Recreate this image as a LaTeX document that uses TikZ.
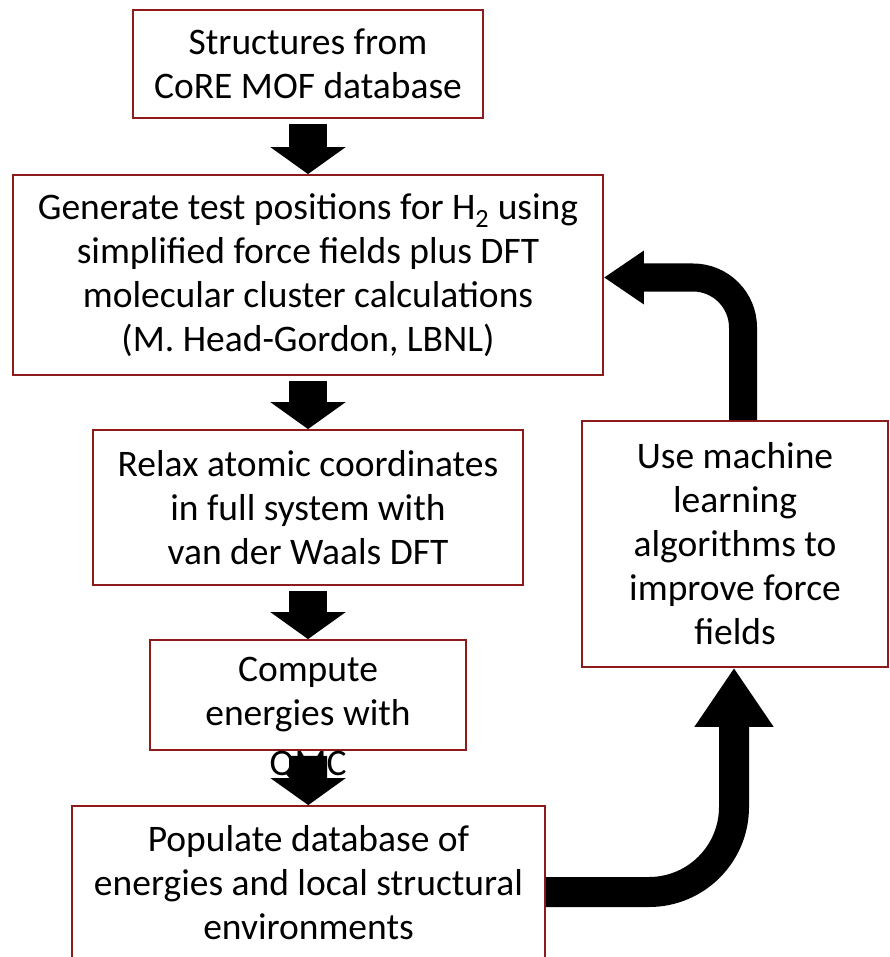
\documentclass[tikz,border=0pt]{standalone}
\usepackage{fontspec}
\setmainfont{Carlito}
\usetikzlibrary{arrows.meta, positioning, calc}

\definecolor{mofRed}{HTML}{8E1B1B}

\tikzset{
  flowbox/.style={
    draw=mofRed, line width=1.8pt, fill=white, align=center,
    font=\fontsize{37.5}{44}\selectfont, inner sep=0pt
  },
  plaintext/.style={font=\fontsize{37.5}{44}\selectfont, inner sep=0pt},
  blockarrow/.style={line width=38pt, -{Triangle[length=27pt, width=74pt]}, shorten <=5pt},
  bentarrow/.style={line width=30pt, rounded corners=85pt, -{Triangle[length=59pt, width=75pt]}},
  returnarrow/.style={line width=28pt, rounded corners=50pt, -{Triangle[length=40pt, width=51pt]}}
}

\begin{document}
\begin{tikzpicture}[x=1pt, y=-1pt]
  \useasboundingbox (0,0) rectangle (889,957);
  \clip (0,0) rectangle (889,957);

  % boxes of the workflow
  \node[flowbox, minimum width=350, minimum height=108] (core) at (308,64)
    {Structures from\\CoRE MOF database};
  \node[flowbox, minimum width=590, minimum height=200] (testpos) at (308,275)
    {Generate test positions for H\textsubscript{2} using\\simplified force fields plus DFT\\molecular cluster calculations\\(M. Head-Gordon, LBNL)};
  \node[flowbox, minimum width=430, minimum height=155] (relax) at (308,507.5)
    {Relax atomic coordinates\\in full system with\\van der Waals DFT};
  \node[flowbox, minimum width=316, minimum height=110] (qmcbox) at (308,695)
    {Compute\\energies with};
  \node[plaintext, anchor=base] (qmclabel) at (308,775) {QMC};
  \node[flowbox, minimum width=473, minimum height=154] (populate) at (308.5,883)
    {Populate database of\\energies and local structural\\environments};
  \node[flowbox, minimum width=306, minimum height=246] (mlearn) at (735,544)
    {Use machine\\learning\\algorithms to\\improve force\\fields};

  % straight arrows down the chain
  \foreach \from/\to in {core/testpos, testpos/relax, relax/qmcbox, qmcbox/populate}
    \draw[blockarrow] (\from) -- (\to);

  % feedback loop
  \draw[bentarrow] ([yshift=-9pt]populate.east) -| ([xshift=-1pt]mlearn.south);
  \draw[returnarrow] ([xshift=8pt]mlearn.north) |- ([yshift=-2.5pt]testpos.east);
\end{tikzpicture}
\end{document}
